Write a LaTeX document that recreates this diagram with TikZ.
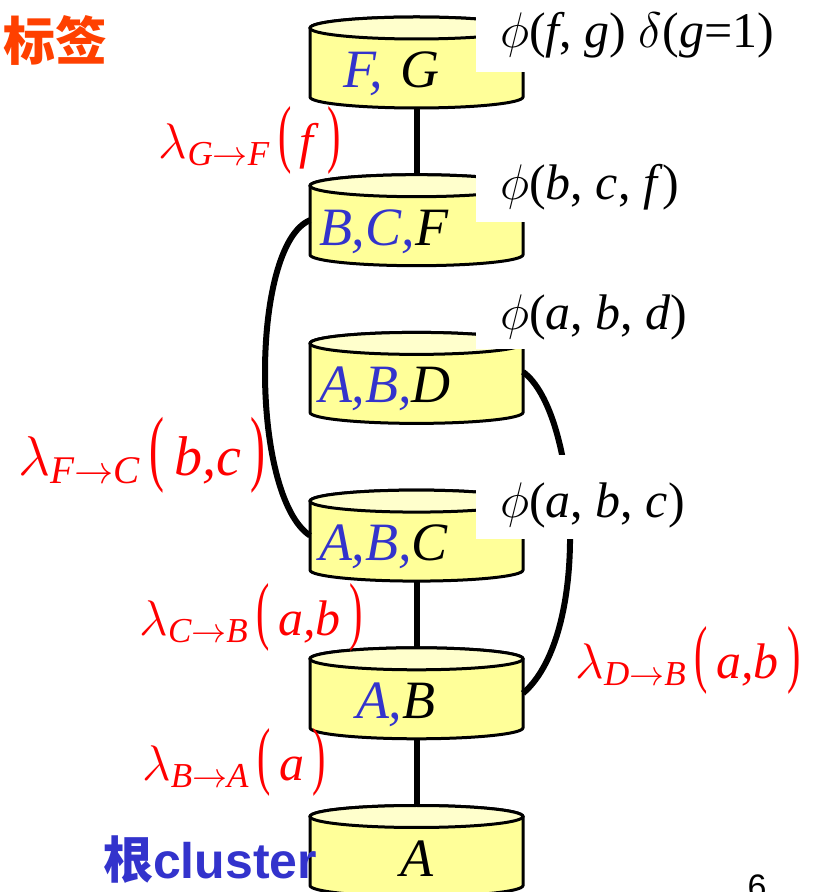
\RequirePackage{fix-cm}
\documentclass[tikz,border=0pt]{standalone}
\usepackage{amsmath}
\usepackage{graphicx}
\usepackage{fontspec}
\usepackage{tikz}
\setmainfont{Liberation Serif}
\newfontfamily\cjkfont{Noto Sans CJK SC}
\newfontfamily\arialfont{Liberation Sans}
\usetikzlibrary{positioning,backgrounds}
\definecolor{clublue}{HTML}{3333CC}
\definecolor{msgred}{HTML}{FF0000}
\definecolor{tagred}{HTML}{FF4000}
\definecolor{cylbody}{HTML}{FFFF99}
\definecolor{cyltop}{HTML}{FFFFCC}
\newcommand\bl[1]{\textcolor{clublue}{#1}}
\newcommand\lammsg[3]{$\lambda_{\textit{#1}\rightarrow\textit{#2}}$\,\scalebox{0.8}[1.5]{(}\,\textit{#3}\,\scalebox{0.8}[1.5]{)}}
\tikzset{
  cluster/.style = {
    rectangle,
    minimum width=213pt,
    minimum height=91pt,
    inner sep=0pt,
    outer sep=0pt,
    text width=195pt,
    align=left,
    text height=50pt,
    text depth=0pt,
    font=\fontsize{54}{60}\selectfont\itshape
  },
  drum/.style = {
    draw,
    line width=3pt
  },
  potential/.style = {
    fill=white,
    anchor=base west,
    inner xsep=24pt,
    inner ysep=0pt,
    font=\fontsize{50}{56}\selectfont
  },
  message/.style = {
    text=msgred,
    inner sep=0pt,
    font=\fontsize{50}{54}\selectfont
  },
  tie/.style = {
    line width=6pt
  }
}
\begin{document}
\begin{tikzpicture}[x=1pt, y=1pt, node distance=66.7pt]
    \useasboundingbox (0,0) rectangle (812,892);
    % clique tree
    \node[cluster] (fg) at (416.5,829.5) {\hspace*{24pt}\bl{F,} G};
    \node[cluster, below=of fg] (bcf) {\bl{B,C,}F};
    \node[cluster, below=of bcf] (abd) {\bl{A,B,}D};
    \node[cluster, below=of abd] (abc) {\bl{A,B,}C};
    \node[cluster, below=of abc] (ab) {\hspace*{37pt}\bl{A,}B};
    \node[cluster, below=of ab, align=center] (a) {A};
    \begin{scope}[on background layer]
      \foreach \c in {fg,bcf,abd,abc,ab,a} {
        \path[drum, fill=cylbody] ([yshift=-11pt]\c.north west) -- ([yshift=11pt]\c.south west)
          arc[start angle=180, end angle=360, x radius=106.5, y radius=11]
          -- ([yshift=-11pt]\c.north east)
          arc[start angle=0, end angle=180, x radius=106.5, y radius=11] -- cycle;
        \path[drum, fill=cyltop] ([yshift=-11pt]\c.north) ellipse[x radius=106.5, y radius=11];
      }
    \end{scope}
    \draw[tie] (fg.south) -- (bcf.north);
    \draw[tie] (abc.south) -- (ab.north);
    \draw[tie] (ab.south) -- (a.north);
    \draw[tie] (bcf.west) .. controls +(-60,-25) and +(-60,40) .. (abc.west);
    \draw[tie] ([yshift=6pt]abd.east) .. controls +(55,-40) and +(70,60) .. (ab.east);
    % potentials
    \node[potential, text height=55pt, text depth=24pt] (phifg) at (476,844) {$\phi$(\textit{f}, \textit{g}) $\delta$(\textit{g}=1)};
    \node[potential, text height=35pt, text depth=22pt] (phibcf) at (476,692) {$\phi$(\textit{b}, \textit{c}, \textit{f})};
    \node[potential, text height=40pt, text depth=19pt] (phiabd) at (476,562) {$\phi$(\textit{a}, \textit{b}, \textit{d})};
    \node[potential, text height=63pt, text depth=21pt] (phiabc) at (476,374) {$\phi$(\textit{a}, \textit{b}, \textit{c})};
    % messages
    \node[message] (msggf) at (250,752) {\lammsg{G}{F}{f}};
    \node[message, font=\fontsize{56}{60}\selectfont] (msgfc) at (142,437) {\lammsg{F}{C}{b,c}};
    \node[message] (msgcb) at (251,275) {\lammsg{C}{B}{a,b}};
    \node[message] (msgdb) at (688,232) {\lammsg{D}{B}{a,b}};
    \node[message] (msgba) at (234,130) {\lammsg{B}{A}{a}};
    % titles
    \node[text=tagred, font={\cjkfont\bfseries\fontsize{52}{54}\selectfont}, anchor=west, inner sep=0pt] (tag) at (3,852) {标签};
    \node[text=clublue, font={\bfseries\fontsize{50}{54}\selectfont}, inner sep=0pt] (root) at (210,32) {{\cjkfont 根}\arialfont cluster};
    \node[font={\arialfont\fontsize{34}{34}\selectfont}, anchor=north, inner sep=0pt] (page) at (757,17) {6};
\end{tikzpicture}
\end{document}
